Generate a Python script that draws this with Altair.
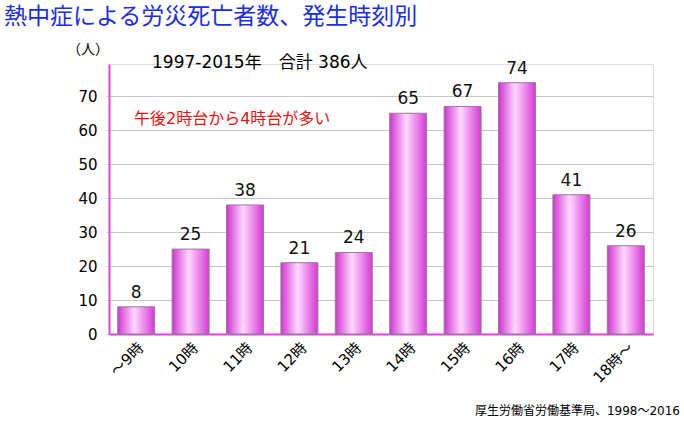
import altair as alt
import pandas as pd

categories = ["～9時", "10時", "11時", "12時", "13時", "14時", "15時", "16時", "17時", "18時～"]
values = [8, 25, 38, 21, 24, 65, 67, 74, 41, 26]
y_ticks = [0, 10, 20, 30, 40, 50, 60, 70]

title_text = "熱中症による労災死亡者数、発生時刻別"
unit_text = "（人）"
subtitle_text = "1997-2015年　合計 386人"
note_text = "午後2時台から4時台が多い"
source_text = "厚生労働省労働基準局、1998～2016"

FONT = "DejaVu Sans, Noto Sans CJK JP"

df = pd.DataFrame({"cat": categories, "val": values})

grad = alt.Gradient(
    gradient="linear",
    stops=[
        alt.GradientStop(color="#d033d0", offset=0),
        alt.GradientStop(color="#ffd8ff", offset=0.45),
        alt.GradientStop(color="#d638d6", offset=1),
    ],
    x1=0, x2=1, y1=0, y2=0,
)

x_enc = alt.X(
    "cat:N", sort=categories, title=None,
    scale=alt.Scale(paddingInner=0.32, paddingOuter=0.16),
    axis=alt.Axis(labelAngle=-45, labelFontSize=15, labelColor="#000", labelFont=FONT,
                  domainColor="#dd44dd", domainWidth=2, ticks=False, labelPadding=6,
                  labelOverlap=False),
)
y_enc = alt.Y(
    "val:Q", title=None,
    scale=alt.Scale(domain=[0, 79.5], nice=False),
    axis=alt.Axis(values=y_ticks, labelFontSize=15, labelColor="#000", labelFont=FONT,
                  domainColor="#dd44dd", domainWidth=2, gridColor="#c8c8c8",
                  tickColor="#c8c8c8", tickSize=3, labelPadding=9, labelOverlap=False),
)

base = alt.Chart(df)
bars = base.mark_bar(color=grad, stroke="#888888", strokeWidth=1).encode(x=x_enc, y=y_enc)
labels = base.mark_text(baseline="bottom", dy=-5, fontSize=17, font=FONT, color="#111").encode(
    x=x_enc, y=y_enc, text="val:Q")

def txt(s, x, y, size, color="#000", align="left"):
    return alt.Chart(pd.DataFrame({"t": [s]})).mark_text(
        align=align, baseline="middle", fontSize=size, font=FONT, color=color
    ).encode(x=alt.value(x), y=alt.value(y), text="t:N")

texts = [
    txt(title_text, -105, -47, 23, "#1a2ee6"),
    txt(unit_text, -21, -14, 14, "#000", "center"),
    txt(subtitle_text, 43, -1, 17),
    txt(note_text, 25, 55, 16, "#ee1111"),
    txt(source_text, 571, 347, 12, "#000", "right"),
]

chart = alt.layer(bars, labels, *texts).properties(
    width=544, height=270,
    padding={"left": 109, "top": 64, "right": 31, "bottom": 87},
    autosize=alt.AutoSizeParams(type="none"),
).configure_view(stroke=None).configure(background="white")

chart.save("out.html", embed_options={"renderer": "svg", "actions": False})
